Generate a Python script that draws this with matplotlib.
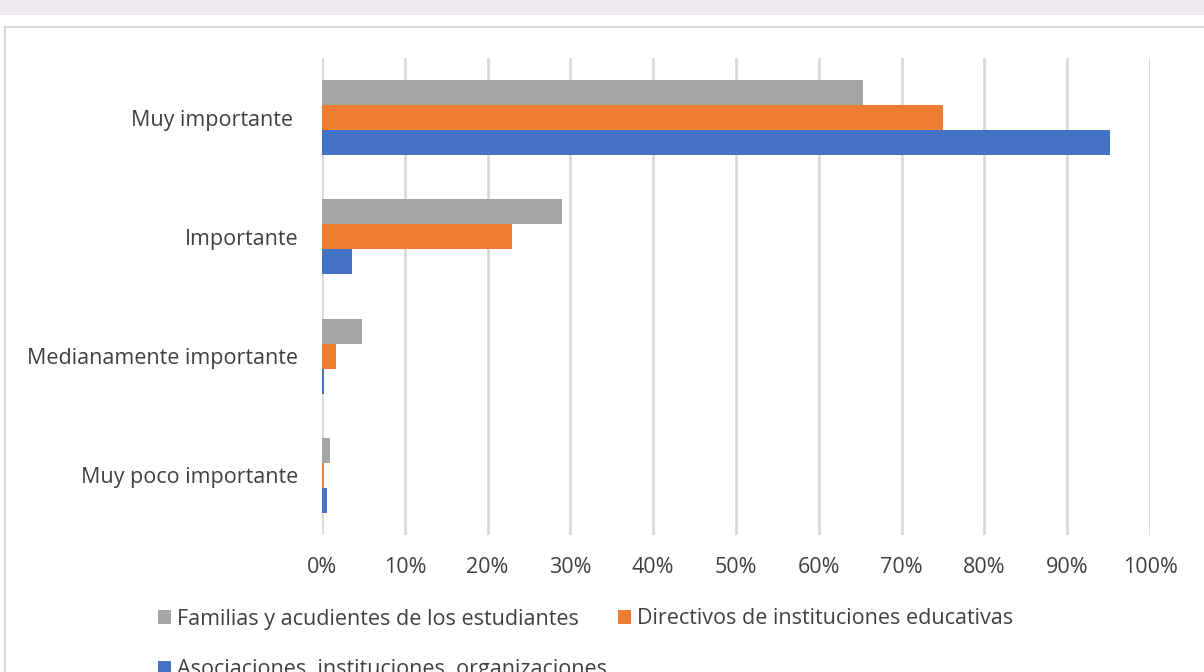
import numpy as np
import matplotlib.pyplot as plt
from matplotlib.patches import Rectangle

plt.rcParams['font.family'] = ['Open Sans', 'DejaVu Sans']

# --- Data ---
categories = ["Muy importante ", "Importante", "Medianamente importante", "Muy poco importante"]
series = ["Familias y acudientes de los estudiantes",
          "Directivos de instituciones educativas",
          "Asociaciones, instituciones, organizaciones"]
familias = [65.3, 29.0, 4.8, 1.0]
directivos = [75.0, 23.0, 1.7, 0.2]
asociaciones = [95.2, 3.6, 0.3, 0.6]
colors = ["#a5a5a5", "#ed7d31", "#4472c4"]
xticks = np.arange(0, 101, 10)

# --- Figure ---
fig = plt.figure(figsize=(12.04, 6.72), dpi=100)
fig.patch.set_facecolor("white")

# top grey strip and chart border
fig.patches.append(Rectangle((0, 1 - 15 / 672), 1, 15 / 672, transform=fig.transFigure,
                             facecolor="#ede9ef", edgecolor="none", zorder=-2))
fig.patches.append(Rectangle((5 / 1204, -0.05), 1.1, 1 - 27 / 672 + 0.05, transform=fig.transFigure,
                             facecolor="white", edgecolor="#d9d9d9", linewidth=1.5, zorder=-2))

ax = fig.add_axes([322 / 1204, 1 - 535 / 672, 828 / 1204, 477 / 672])
ax.set_facecolor("none")
ax.set_zorder(2)

y = np.arange(len(categories))
h = 0.21
vals = [familias, directivos, asociaciones]
bars = []
for i, (v, c) in enumerate(zip(vals, colors)):
    b = ax.barh(y + (i - 1) * h, v, height=h, color=c, label=series[i], zorder=3)
    bars.append(b)

ax.set_xlim(0, 100)
ax.set_ylim(len(categories) - 0.5, -0.5)
ax.set_xticks(xticks)
ax.set_xticklabels([f"{t}%" for t in xticks], fontsize=15.5, color="#404040")
ax.set_yticks(y)
ax.set_yticklabels(categories, fontsize=15.5, color="#404040")
ax.tick_params(axis="both", length=0)
ax.tick_params(axis="y", pad=17)
ax.tick_params(axis="x", pad=15.5)
ax.grid(axis="x", color="#d9d9d9", linewidth=2, zorder=0)
for s in ax.spines.values():
    s.set_visible(False)

# legend: two items on first row, third wraps below (cut at bottom edge)
leg_kw = dict(loc="center left", frameon=False, fontsize=15.5, borderpad=0,
              handlelength=0.6, handleheight=0.6, handletextpad=0.3,
              columnspacing=1.8, labelcolor="#404040")
fig.legend([bars[0], bars[1]], [series[0], series[1]], ncol=2,
           bbox_to_anchor=(147 / 1204, 1 - 619 / 672), **leg_kw)
fig.legend([bars[2]], [series[2]], ncol=1,
           bbox_to_anchor=(147 / 1204, 1 - 670 / 672), **leg_kw)

fig.savefig("out.png", dpi=100)
